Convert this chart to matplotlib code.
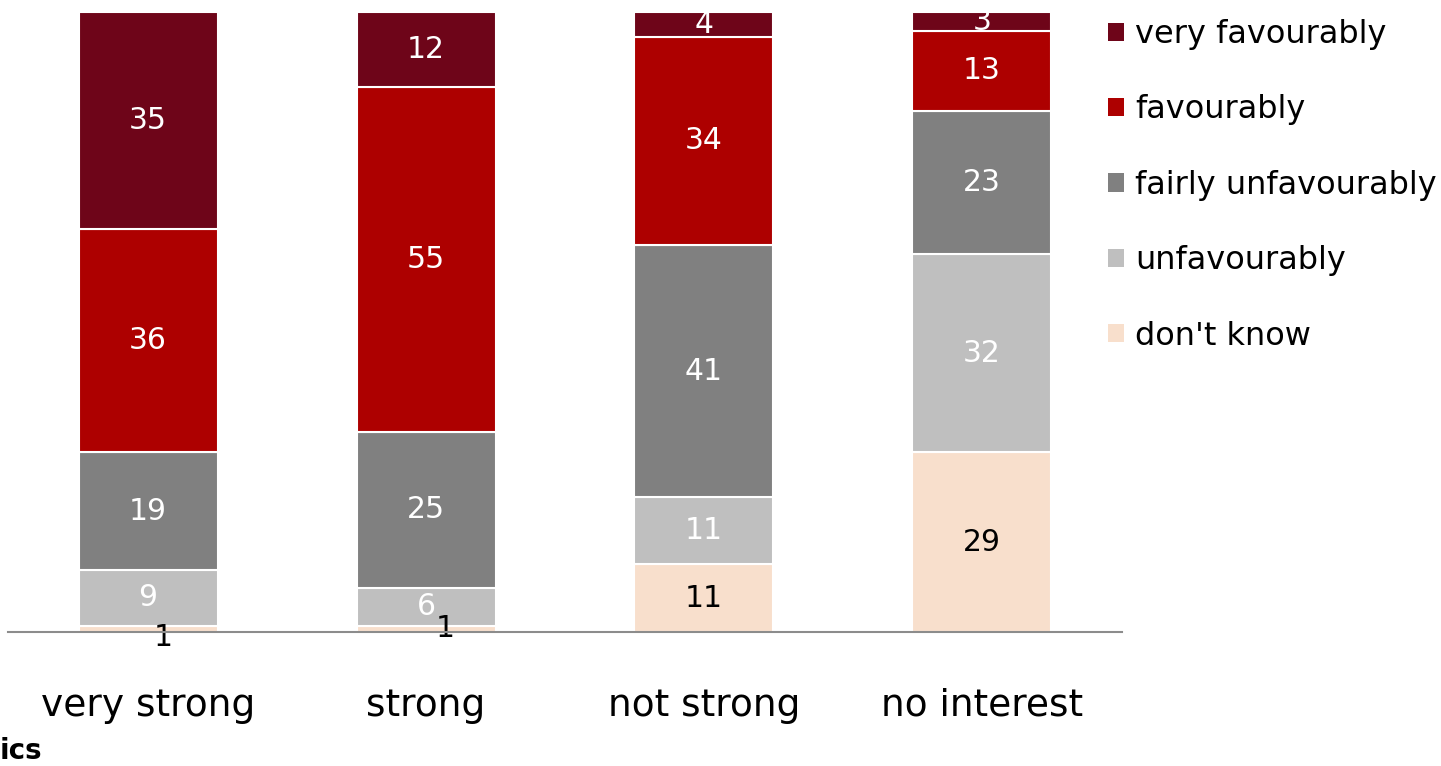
import numpy as np
import matplotlib.pyplot as plt
from matplotlib.patches import Patch

plt.rcParams['font.family'] = ['DejaVu Sans']

groups = ["very strong", "strong", "not strong", "no interest"]
series = ["very favourably", "favourably", "fairly unfavourably", "unfavourably", "don't know"]

very_fav = [35, 12, 4, 3]
fav = [36, 55, 34, 13]
fairly_unfav = [19, 25, 41, 23]
unfav = [9, 6, 11, 32]
dont_know = [1, 1, 11, 29]

colors = ["#6e0519", "#ad0000", "#808080", "#bfbfbf", "#f8dfcc"]
text_colors = ["white", "white", "white", "white", "black"]

# stacked bottom-up: don't know first
stack = [dont_know, unfav, fairly_unfav, fav, very_fav]
stack_colors = colors[::-1]
stack_text = text_colors[::-1]

vals = np.array(stack, dtype=float)
totals = vals.sum(axis=0)
shares = vals / totals * 100  # 100% stacked

fig = plt.figure(figsize=(14.41, 7.66), dpi=100)
ax = fig.add_axes([8/1441, 134/766, 1114/1441, 620/766])

x = np.arange(len(groups))
bottom = np.zeros(len(groups))
for i in range(len(stack)):
    ax.bar(x, shares[i], bottom=bottom, width=0.5, color=stack_colors[i],
           edgecolor="white", linewidth=1.5, zorder=2)
    for j in range(len(groups)):
        v = stack[i][j]
        yc = bottom[j] + shares[i][j] / 2
        xc = x[j]
        if v <= 1:
            # tiny segments: label pushed off the bar
            xc = x[j] + (0.055 if j == 0 else 0.07)
            yc = bottom[j] - (0.9 if j == 0 else -0.6)
        ax.text(xc, yc, str(v), ha="center", va="center", fontsize=21.5,
                color=stack_text[i] if v > 1 else "black", zorder=3)
    bottom += shares[i]

ax.set_xlim(-0.504, 3.504)
ax.set_ylim(0, 100)
for s in ["top", "right", "left"]:
    ax.spines[s].set_visible(False)
ax.spines["bottom"].set_color("#8c8c8c")
ax.spines["bottom"].set_linewidth(1.5)
ax.spines["bottom"].set_zorder(4)
ax.set_yticks([])
ax.set_xticks(x)
ax.set_xticklabels(groups, fontsize=27)
ax.tick_params(axis="x", length=0, pad=40)

handles = [Patch(facecolor=c, edgecolor="none") for c in colors]
ax.legend(handles, series, loc="upper left", bbox_to_anchor=(1108/1441, 1 - 19/766),
          bbox_transform=fig.transFigure, frameon=False, fontsize=23,
          handlelength=0.5, handleheight=0.5, handletextpad=0.35, labelspacing=1.39,
          borderaxespad=0, borderpad=0)

fig.text(0, 15/766, "ics", ha="left", va="center", fontsize=20, fontweight="bold")

fig.savefig("out.png", dpi=100)
